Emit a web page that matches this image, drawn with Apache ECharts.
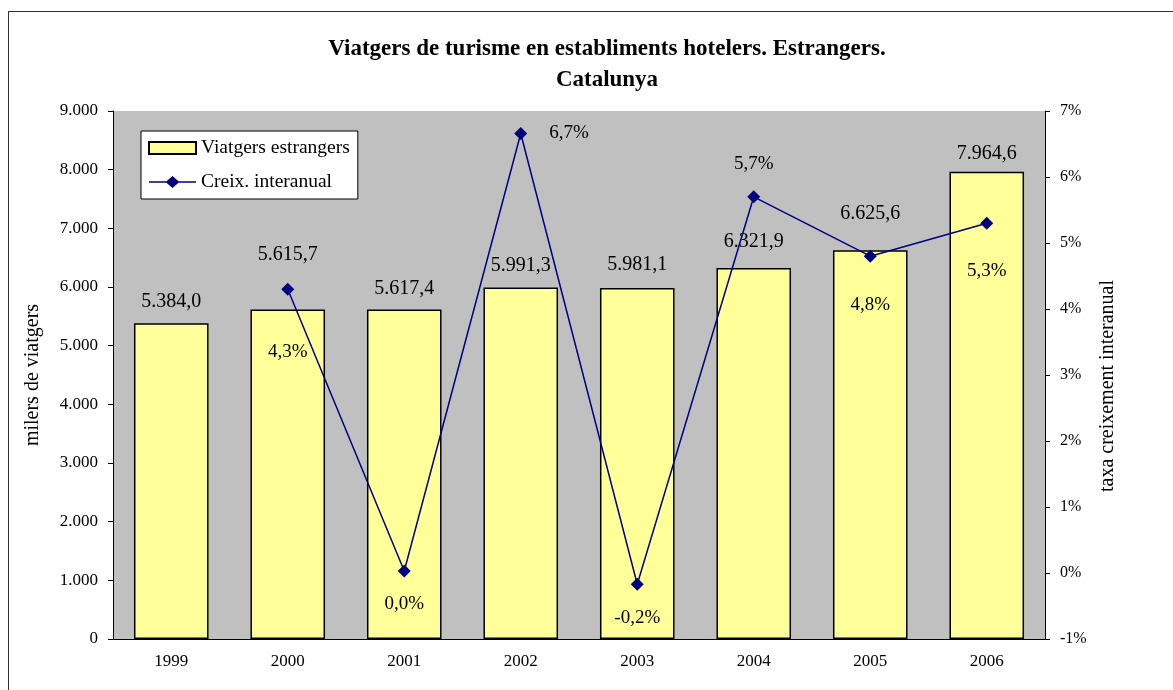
<!DOCTYPE html>
<html>
<head>
<meta charset="utf-8">
<script src="https://cdn.jsdelivr.net/npm/echarts@6/dist/echarts.min.js"></script>
<style>
    html, body { margin: 0; padding: 0; background: #fff; overflow: hidden; }
    #frame {
        position: absolute; left: 8px; top: 11px;
        width: 1200px; height: 700px;
        border: 1.5px solid #333; box-sizing: border-box;
    }
    #barChart { position: absolute; left: 0; top: 0; width: 1173px; height: 690px; }
</style>
</head>
<body>
<div id="frame"></div>
<div id="barChart"></div>
<script>
const years = ['1999', '2000', '2001', '2002', '2003', '2004', '2005', '2006'];
const viatgers = [5384.0, 5615.7, 5617.4, 5991.3, 5981.1, 6321.9, 6625.6, 7964.6];
const creixement = [null, 4.30, 0.03, 6.66, -0.17, 5.70, 4.80, 5.30];
const percentTicks = ['-1%', '0%', '1%', '2%', '3%', '4%', '5%', '6%', '7%'];

// etiquetes col·locades com a l'original
const barLabelDist = [11, 45, 11, 12, 13, 16, 27, 8];
const lineLabelPos = ['bottom', 'bottom', 'bottom', 'right', 'bottom', 'top', 'bottom', 'bottom'];
const lineLabelDist = [0, 47, 17, 22, 18, 17, 33, 32];

const serif = '"Liberation Serif", "Times New Roman", serif';
// línia amb rombe per a la llegenda
const lineIcon = 'path://M0,5.3L17.5,5.3L23.5,0L29.5,5.3L47,5.3L47,6.7L29.5,6.7L23.5,12L17.5,6.7L0,6.7Z';

function fmtMilers(v, dec) {
    const parts = v.toFixed(dec).split('.');
    const ent = parts[0].replace(/\B(?=(\d{3})+(?!\d))/g, '.');
    return parts.length > 1 ? ent + ',' + parts[1] : ent;
}

const chart = echarts.init(document.getElementById('barChart'));
chart.setOption({
    animation: false,
    title: {
        text: 'Viatgers de turisme en establiments hotelers. Estrangers.\nCatalunya',
        left: 602, top: 29, textAlign: 'center',
        textStyle: { fontFamily: serif, fontSize: 23, fontWeight: 'bold', color: '#000', lineHeight: 31 }
    },
    legend: {
        orient: 'vertical',
        left: 141, top: 131,
        backgroundColor: '#fff',
        borderColor: '#000', borderWidth: 1,
        padding: [7, 8, 7, 7],
        itemGap: 14,
        itemWidth: 47, itemHeight: 12,
        textStyle: { fontFamily: serif, fontSize: 19.5, color: '#000' },
        data: [
            { name: 'Viatgers estrangers', icon: 'rect' },
            { name: 'Creix. interanual', icon: lineIcon, itemStyle: { color: '#000080', borderWidth: 0 } }
        ]
    },
    grid: {
        left: 113, right: 128, top: 111, bottom: 51,
        show: true, backgroundColor: '#C0C0C0', borderWidth: 0
    },
    xAxis: {
        type: 'category',
        data: years,
        axisLine: { lineStyle: { color: '#000', width: 1 } },
        axisTick: { length: 5, lineStyle: { color: '#000' } },
        axisLabel: { fontFamily: serif, fontSize: 17, color: '#000', margin: 14 }
    },
    yAxis: [
        {
            type: 'value',
            min: 0, max: 9000, interval: 1000,
            name: 'milers de viatgers',
            nameLocation: 'middle', nameRotate: 90, nameGap: 70,
            nameTextStyle: { fontFamily: serif, fontSize: 20, color: '#000' },
            axisLine: { show: true, lineStyle: { color: '#000' } },
            axisTick: { show: true, length: 5, lineStyle: { color: '#000' } },
            axisLabel: {
                fontFamily: serif, fontSize: 17, color: '#000', margin: 15,
                formatter: v => fmtMilers(v, 0)
            },
            splitLine: { show: false }
        },
        {
            type: 'value',
            min: -1, max: 7, interval: 1,
            name: 'taxa creixement interanual',
            nameLocation: 'middle', nameRotate: 90, nameGap: 51,
            nameTextStyle: { fontFamily: serif, fontSize: 20, color: '#000', padding: [0, 22, 0, 0] },
            axisLine: { show: true, lineStyle: { color: '#000' } },
            axisTick: { show: true, length: 5, lineStyle: { color: '#000' } },
            axisLabel: {
                fontFamily: serif, fontSize: 16, color: '#000', margin: 15,
                formatter: v => percentTicks[Math.round(v) + 1]
            },
            splitLine: { show: false }
        }
    ],
    series: [
        {
            name: 'Viatgers estrangers',
            type: 'bar',
            barCategoryGap: '36%',
            data: viatgers.map((v, i) => ({
                value: v,
                label: { distance: barLabelDist[i] }
            })),
            itemStyle: { color: '#FFFF99', borderColor: '#000', borderWidth: 1.5 },
            label: {
                show: true, position: 'top',
                fontFamily: serif, fontSize: 20, color: '#000',
                formatter: p => fmtMilers(p.value, 1)
            }
        },
        {
            name: 'Creix. interanual',
            type: 'line',
            yAxisIndex: 1,
            symbol: 'diamond', symbolSize: 13,
            connectNulls: false,
            lineStyle: { color: '#000080', width: 1.5 },
            itemStyle: { color: '#000080' },
            data: creixement.map((v, i) => ({
                value: v,
                label: { position: lineLabelPos[i], distance: lineLabelDist[i] }
            })),
            label: {
                show: true,
                fontFamily: serif, fontSize: 19, color: '#000',
                formatter: p => p.value == null ? '' : p.value.toFixed(1).replace('.', ',') + '%'
            },
            z: 5
        }
    ]
});
</script>
</body>
</html>
